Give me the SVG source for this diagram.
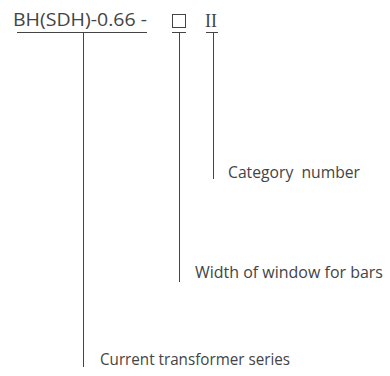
<svg xmlns="http://www.w3.org/2000/svg" width="390" height="376" viewBox="0 0 390 376">
<style>
.t{font-family:"Open Sans","Liberation Sans",sans-serif;fill:#444}
.lbl{font-size:15.4px}
.ln{stroke:#444;stroke-width:1;fill:none}
</style>
<rect width="390" height="376" fill="#fff"/>
<g id="title">
<text class="t" x="13" y="26" font-size="18" textLength="134" lengthAdjust="spacingAndGlyphs">BH(SDH)-0.66 -</text>
<rect x="172.5" y="14.5" width="13" height="13" class="ln"/>
<text x="205" y="26.5" font-family="'Liberation Serif',serif" font-size="18" fill="#444">II</text>
</g>
<g id="connectors">
<line x1="17" y1="32.5" x2="147" y2="32.5" class="ln"/>
<line x1="172" y1="32.5" x2="186" y2="32.5" class="ln"/>
<line x1="206" y1="32.5" x2="218" y2="32.5" class="ln"/>
<line x1="83.5" y1="32" x2="83.5" y2="367" class="ln"/>
<line x1="179.5" y1="32" x2="179.5" y2="282" class="ln"/>
<line x1="213.5" y1="32" x2="213.5" y2="179" class="ln"/>
</g>
<g id="category">
<text class="t lbl" x="228" y="178" xml:space="preserve" textLength="132" lengthAdjust="spacingAndGlyphs">Category  number</text>
</g>
<g id="width">
<text class="t lbl" x="195" y="278" textLength="188" lengthAdjust="spacingAndGlyphs">Width of window for bars</text>
</g>
<g id="series">
<text class="t lbl" x="100" y="365" textLength="190" lengthAdjust="spacingAndGlyphs">Current transformer series</text>
</g>
</svg>
